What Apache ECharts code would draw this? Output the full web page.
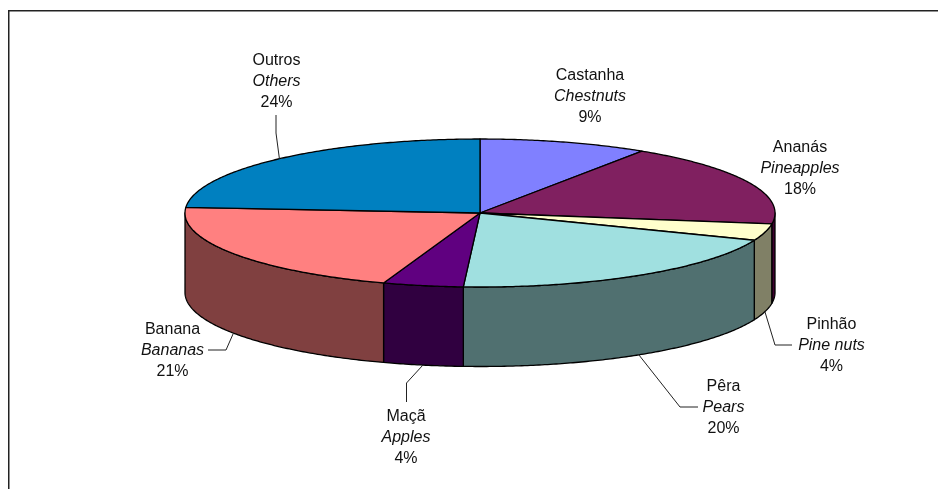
<!DOCTYPE html>
<html><head><meta charset="utf-8">
<style>html,body{margin:0;padding:0;background:#fff}#c{width:938px;height:489px}</style>
<script src="https://cdn.jsdelivr.net/npm/echarts@6/dist/echarts.min.js"></script>
</head><body><div id="c"></div>
<script>
// Data (slice sizes; labels show them rounded)
const categories = ['Castanha', 'Ananás', 'Pinhão', 'Pêra', 'Maçã', 'Banana', 'Outros'];
const categoriesEn = ['Chestnuts', 'Pineapples', 'Pine nuts', 'Pears', 'Apples', 'Bananas', 'Others'];
const values = [9.25, 18.1, 3.65, 19.9, 4.4, 20.9, 23.8];

// Styles
const topColors = ['#8080FF', '#802060', '#FFFFCC', '#A0E0E0', '#600080', '#FF8080', '#0080C0'];
const sideColors = ['#404080', '#400030', '#808066', '#507070', '#300040', '#804040', '#004060'];

// Layout
const cx = 480, cy = 213, rx = 295, ry = 74, depth = 79.5;
const labelCenters = [[590, 96.5], [800, 169], [831.5, 345.5], [723.5, 407.5], [406, 437.5], [172.5, 350.5], [276.5, 82]];
// leader-line bends after the slice anchor, null when the label has no leader
const leaderBends = [null, null, [[775, 345], [792, 345]], [[680, 407], [698, 407]],
  [[406.5, 383], [406.5, 402]], [[226, 350], [208, 350]], [[276, 133], [276, 115]]];

const total = values.reduce((a, b) => a + b, 0);
const starts = [];
values.reduce((acc, v, i) => { starts[i] = acc; return acc + v; }, 0);
const ang = v => v / total * Math.PI * 2;             // clockwise from 12 o'clock
const pt = (a, dy) => [cx + rx * Math.sin(a), cy - ry * Math.cos(a) + (dy || 0)];
function arc(a0, a1, dy) {
  const n = Math.max(2, Math.ceil((a1 - a0) / 0.01)), out = [];
  for (let k = 0; k <= n; k++) out.push(pt(a0 + (a1 - a0) * k / n, dy));
  return out;
}
const seriesData = values.map((v, i) => ({ name: categories[i], value: v }));

const sideItem = (params, api) => {
  const i = params.dataIndex;
  const a0 = Math.max(ang(starts[i]), Math.PI / 2);
  const a1 = Math.min(ang(starts[i] + api.value(0)), Math.PI * 1.5);
  if (a1 <= a0) return { type: 'group', children: [] };
  return { type: 'polygon',
    shape: { points: arc(a0, a1, 0).concat(arc(a0, a1, depth).reverse()) },
    style: { fill: sideColors[i], stroke: '#000', lineWidth: 1.3, lineJoin: 'round' } };
};
const topItem = (params, api) => {
  const i = params.dataIndex;
  const a0 = ang(starts[i]), a1 = ang(starts[i] + api.value(0));
  return { type: 'polygon',
    shape: { points: [[cx, cy]].concat(arc(a0, a1, 0)) },
    style: { fill: topColors[i], stroke: '#000', lineWidth: 1.3, lineJoin: 'round' } };
};
const labelItem = (params, api) => {
  const i = params.dataIndex, v = api.value(0);
  const children = [{ type: 'text', x: labelCenters[i][0], y: labelCenters[i][1],
    style: { text: `{a|${categories[i]}}\n{b|${categoriesEn[i]}}\n{a|${Math.round(v)}%}`,
      align: 'center', verticalAlign: 'middle', fill: '#111',
      rich: { a: { fontFamily: 'Liberation Sans', fontSize: 16, lineHeight: 21, fill: '#111' },
              b: { fontFamily: 'Liberation Sans', fontSize: 16, lineHeight: 21, fontStyle: 'italic', fill: '#111' } } } }];
  if (leaderBends[i]) {
    const mid = ang(starts[i] + v / 2);
    const front = Math.cos(mid) < 0;
    children.push({ type: 'polyline',
      shape: { points: [pt(mid, front ? depth : 0)].concat(leaderBends[i]) },
      style: { fill: 'none', stroke: '#222', lineWidth: 1 } });
  }
  return { type: 'group', children };
};

const chart = echarts.init(document.getElementById('c'), null, { renderer: 'canvas' });
chart.setOption({
  animation: false,
  backgroundColor: '#fff',
  graphic: [{ type: 'polyline', silent: true, z: 0,
    shape: { points: [[8.75, 489], [8.75, 10.75], [938, 10.75]] },
    style: { fill: 'none', stroke: '#222', lineWidth: 1.5 } }],
  series: [
    { type: 'custom', coordinateSystem: 'none', renderItem: sideItem, data: seriesData, z: 2, silent: true },
    { type: 'custom', coordinateSystem: 'none', renderItem: topItem, data: seriesData, z: 3, silent: true },
    { type: 'custom', coordinateSystem: 'none', renderItem: labelItem, data: seriesData, z: 4, silent: true }
  ]
});
</script></body></html>
